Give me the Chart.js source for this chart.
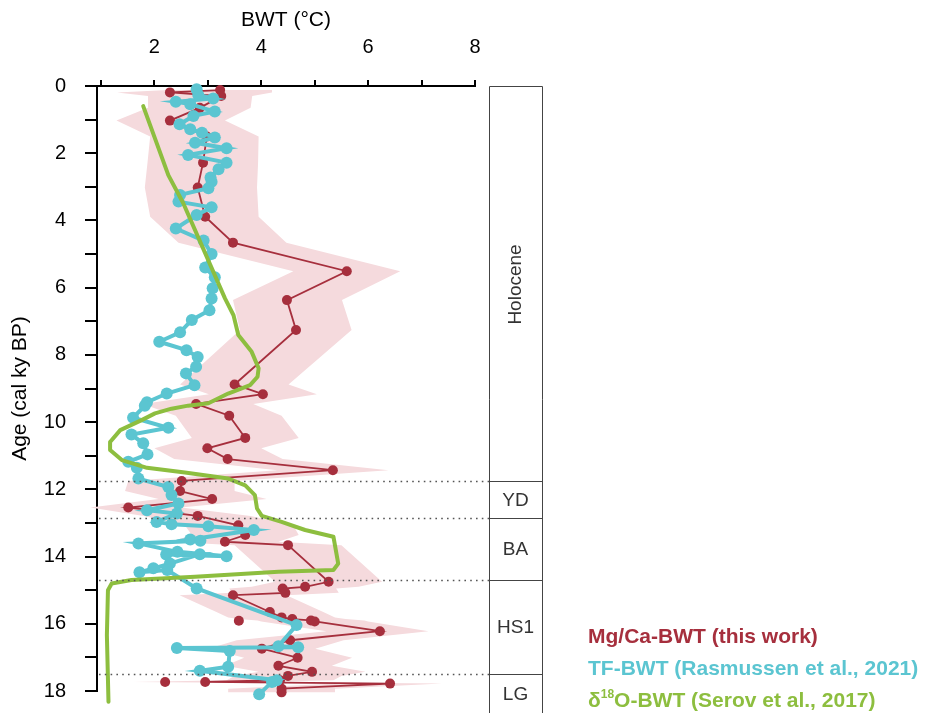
<!DOCTYPE html>
<html><head><meta charset="utf-8">
<script src="https://cdn.jsdelivr.net/npm/chart.js@4.4.1/dist/chart.umd.min.js"></script>
<style>html,body{margin:0;padding:0;background:#fff;}canvas{display:block;}</style>
</head><body>
<canvas id="c" width="925" height="713"></canvas>
<script>
// ---- data ----
const redAge = [0.12,0.19,0.30,0.65,1.03,1.50,2.28,3.02,3.89,4.66,5.51,6.37,7.26,8.88,9.17,9.46,9.81,10.47,10.78,11.10,11.43,11.75,12.05,12.29,12.54,12.79,13.07,13.36,13.56,13.66,14.75,14.90,14.95,15.08,15.15,15.65,15.81,15.86,15.90,15.93,16.22,16.49,16.74,17.01,17.25,17.43,17.55,17.68,17.73,17.78,17.93,18.04];
const redBWT = [3.23,2.29,3.25,2.85,2.29,2.98,2.91,2.81,2.95,3.47,5.60,4.48,4.65,3.50,4.03,2.78,3.40,3.70,2.99,3.37,5.34,2.51,2.48,3.08,1.51,2.81,3.57,3.70,3.32,4.50,5.26,4.82,4.40,4.45,3.47,4.16,4.38,4.58,4.93,5.00,6.22,4.54,4.01,4.68,4.32,4.95,4.50,4.35,2.95,6.41,4.38,4.38];
const bandLo = [2.25,1.30,1.88,1.88,1.29,1.92,1.87,1.82,1.92,2.45,4.60,3.47,3.60,2.48,3.02,1.78,2.40,2.70,2.00,2.37,4.30,1.51,1.45,2.08,0.80,1.80,2.57,2.70,2.32,3.50,4.26,3.82,3.40,3.45,2.47,3.16,3.38,3.58,3.93,4.00,5.22,3.54,3.01,3.68,3.32,3.95,3.50,3.35,1.60,5.41,3.38,3.38];
const bandHi = [4.20,4.20,3.83,3.80,3.32,3.95,3.94,3.92,3.95,4.47,6.60,5.51,5.69,4.51,5.04,3.85,4.38,4.70,4.00,4.40,6.38,3.50,3.50,4.10,2.50,3.80,4.60,4.70,4.32,5.50,6.26,5.82,5.40,5.45,4.47,5.16,5.38,5.58,5.93,6.00,7.13,5.54,5.01,5.70,5.32,5.95,5.50,5.35,3.95,7.38,5.38,5.38];
const redRepAge = [15.91,17.73];
const redRepBWT = [3.58,2.20];

const tfAge = [0.10,0.27,0.37,0.47,0.54,0.76,0.89,1.14,1.29,1.39,1.53,1.69,1.85,2.05,2.28,2.48,2.72,2.85,3.04,3.24,3.44,3.61,3.84,4.24,4.60,5.00,5.40,5.69,6.02,6.32,6.67,6.96,7.33,7.61,7.86,8.06,8.35,8.55,8.90,9.15,9.41,9.51,9.87,10.17,10.37,10.63,10.96,11.18,11.36,11.68,11.93,12.17,12.42,12.62,12.72,12.97,13.04,13.10,13.21,13.49,13.53,13.61,13.86,13.99,13.94,13.93,14.21,14.35,14.47,14.40,14.95,16.04,16.67,16.70,16.72,16.81,17.28,17.40,17.68,17.73,18.10];
const tfBWT = [2.79,2.82,3.10,2.40,2.67,3.13,2.73,2.47,2.67,2.89,3.13,2.76,3.35,2.63,3.35,3.20,3.05,3.07,3.01,2.48,2.45,3.07,2.79,2.40,2.92,3.07,2.95,3.13,3.09,3.07,3.03,2.70,2.48,2.09,2.60,2.81,2.78,2.59,2.75,2.23,1.86,1.82,1.60,2.26,1.57,1.79,1.87,1.51,1.67,1.70,2.26,2.32,2.45,1.86,2.42,2.04,2.32,3.01,3.86,2.67,2.86,1.70,2.43,3.35,2.22,2.85,2.29,1.98,1.72,2.24,2.79,4.66,4.32,4.69,2.42,3.41,3.38,2.85,4.29,4.20,3.96];

const d18Age = [0.60,2.65,3.49,6.32,6.82,7.41,7.91,8.40,8.65,8.90,9.15,9.44,9.51,9.60,9.74,9.94,10.24,10.59,10.83,11.13,11.36,11.50,11.68,11.88,12.17,12.57,12.79,12.97,13.21,13.41,14.21,14.40,14.45,14.60,14.70,14.80,15.00,16.34,18.32];
const d18BWT = [1.79,2.26,2.54,3.32,3.48,3.57,3.82,3.95,3.93,3.79,3.38,3.01,2.63,2.32,2.01,1.76,1.36,1.17,1.17,1.39,1.86,2.57,3.38,3.70,3.88,3.92,4.01,4.38,4.82,5.35,5.44,5.35,4.32,2.76,1.57,1.20,1.13,1.11,1.14];

const xTickValues = [1,2,3,4,5,6,7,8];
const epochNames = ['Holocene','YD','BA','HS1','LG'];
const epochStart = [0,11.75,12.85,14.7,17.5];
const seriesLabels = ['Mg/Ca-BWT (this work)','TF-BWT (Rasmussen et al., 2021)','O-BWT (Serov et al., 2017)'];

const RED = '#A62F3D', CYAN = '#5BC5D1', GREEN = '#8DBE3F', BAND = '#F5DADD';
const FONT = "'Liberation Sans', Arial, Helvetica, sans-serif";

const pts = (a, v) => a.map((y, i) => ({x: v[i], y}));

const bandPlugin = {
  id: 'band',
  beforeDatasetsDraw(chart) {
    const {ctx, scales: {x, y}} = chart;
    ctx.save();
    ctx.beginPath();
    redAge.forEach((a, i) => {
      const px = x.getPixelForValue(bandHi[i]), py = y.getPixelForValue(a);
      i ? ctx.lineTo(px, py) : ctx.moveTo(px, py);
    });
    for (let i = redAge.length - 1; i >= 0; i--) {
      ctx.lineTo(x.getPixelForValue(bandLo[i]), y.getPixelForValue(redAge[i]));
    }
    ctx.closePath();
    ctx.fillStyle = BAND;
    ctx.fill();
    ctx.restore();
  }
};

const decoPlugin = {
  id: 'deco',
  afterDraw(chart) {
    const {ctx, scales: {x, y}, chartArea} = chart;
    const boxL = 489, boxR = 542, H = chart.height;
    const top = y.getPixelForValue(0);
    ctx.save();
    ctx.strokeStyle = '#555';
    ctx.lineWidth = 1.6;
    ctx.setLineDash([1.6, 4.2]);
    epochStart.slice(1).forEach(a => {
      const py = Math.round(y.getPixelForValue(a)) + 0.5;
      ctx.beginPath(); ctx.moveTo(chartArea.left + 2, py); ctx.lineTo(boxL, py); ctx.stroke();
    });
    ctx.setLineDash([]);
    ctx.strokeStyle = '#444';
    ctx.lineWidth = 1;
    ctx.beginPath();
    ctx.moveTo(boxL + 0.5, H); ctx.lineTo(boxL + 0.5, top + 0.5); ctx.lineTo(boxR + 0.5, top + 0.5); ctx.lineTo(boxR + 0.5, H);
    ctx.stroke();
    const bounds = epochStart.map(a => y.getPixelForValue(a));
    bounds.slice(1).forEach(py => {
      ctx.beginPath(); ctx.moveTo(boxL, Math.round(py) + 0.5); ctx.lineTo(boxR + 1, Math.round(py) + 0.5); ctx.stroke();
    });
    ctx.fillStyle = '#333';
    ctx.font = '19px ' + FONT;
    ctx.textAlign = 'center';
    ctx.textBaseline = 'middle';
    const cx = (boxL + boxR) / 2;
    epochNames.forEach((n, i) => {
      const y0 = bounds[i], y1 = i + 1 < bounds.length ? bounds[i + 1] : H;
      const cy = (y0 + y1) / 2 + 1;
      if (i === 0) {
        ctx.save(); ctx.translate(cx, cy); ctx.rotate(-Math.PI / 2); ctx.fillText(n, 0, 0); ctx.restore();
      } else {
        ctx.fillText(n, cx, cy);
      }
    });
    const lx = 588, cols = [RED, CYAN, GREEN], base = [643, 675, 707];
    ctx.textAlign = 'left';
    ctx.textBaseline = 'alphabetic';
    seriesLabels.forEach((t, i) => {
      ctx.fillStyle = cols[i];
      ctx.font = 'bold 21px ' + FONT;
      let xx = lx;
      if (i === 2) {
        ctx.fillText('δ', xx, base[i]); xx += ctx.measureText('δ').width;
        ctx.font = 'bold 12px ' + FONT;
        ctx.fillText('18', xx, base[i] - 9); xx += ctx.measureText('18').width;
        ctx.font = 'bold 21px ' + FONT;
      }
      ctx.fillText(t, xx, base[i]);
    });
    ctx.restore();
  }
};

Chart.defaults.font.family = FONT;
Chart.defaults.color = '#000';

new Chart(document.getElementById('c'), {
  type: 'scatter',
  data: {
    datasets: [
      {label: seriesLabels[2], data: pts(d18Age, d18BWT), showLine: true, borderColor: GREEN, borderWidth: 4, pointRadius: 0, clip: false, borderJoinStyle: 'round', borderCapStyle: 'round'},
      {label: seriesLabels[1], data: pts(tfAge, tfBWT), showLine: true, borderColor: CYAN, backgroundColor: CYAN, borderWidth: 4, pointRadius: 6, pointBorderWidth: 0, clip: false},
      {label: seriesLabels[0], data: pts(redAge, redBWT), showLine: true, borderColor: RED, backgroundColor: RED, borderWidth: 1.8, pointRadius: 5, pointBorderWidth: 0, clip: false},
      {label: 'replicates', data: pts(redRepAge, redRepBWT), showLine: false, backgroundColor: RED, pointRadius: 5, pointBorderWidth: 0, clip: false}
    ]
  },
  options: {
    responsive: false,
    animation: false,
    devicePixelRatio: 1,
    layout: {padding: {left: 0, right: 450, top: 0, bottom: 22}},
    plugins: {legend: {display: false}, tooltip: {enabled: false}},
    scales: {
      x: {
        type: 'linear', position: 'top', min: 0.925, max: 8,
        afterBuildTicks: s => { s.ticks = xTickValues.map(v => ({value: v})); },
        afterFit: s => { s.height = 86; s.paddingLeft = 0; s.paddingRight = 0; },
        ticks: {font: {size: 20}, padding: 21, maxRotation: 0, autoSkip: false, callback: v => (v % 2 === 0 ? v : '')},
        grid: {drawOnChartArea: false, drawTicks: true, tickLength: 6, color: '#000', lineWidth: 2},
        border: {display: true, color: '#000', width: 2},
        title: {display: true, text: 'BWT (°C)', font: {size: 21}, padding: {top: 8, bottom: 0}}
      },
      y: {
        type: 'linear', position: 'left', reverse: true, min: 0, max: 18,
        afterFit: s => { s.width = 97; s.paddingTop = 0; s.paddingBottom = 0; },
        ticks: {stepSize: 1, font: {size: 20}, padding: 19, autoSkip: false, callback: v => (v % 2 === 0 ? v : '')},
        grid: {drawOnChartArea: false, drawTicks: true, tickLength: 12, color: '#000', lineWidth: 2},
        border: {display: true, color: '#000', width: 2},
        title: {display: true, text: 'Age (cal ky BP)', font: {size: 21}, padding: {top: 8, bottom: 0}}
      }
    }
  },
  plugins: [bandPlugin, decoPlugin]
});
</script>
</body></html>
